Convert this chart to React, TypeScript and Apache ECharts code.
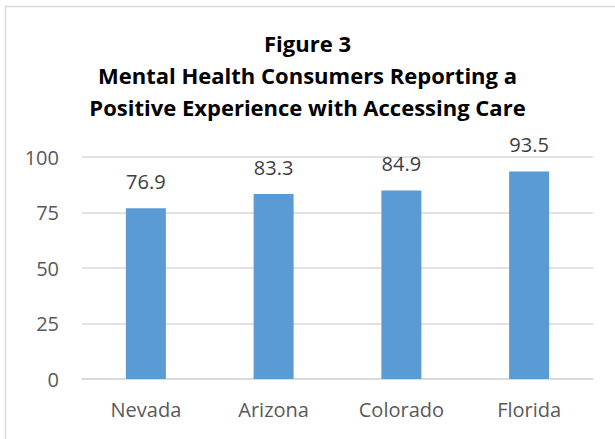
import React, { useEffect, useRef } from "react";
import * as echarts from "echarts";

const titleLines = [
  "Figure 3",
  "Mental Health Consumers Reporting a",
  "Positive Experience with Accessing Care",
];
const categories = ["Nevada", "Arizona", "Colorado", "Florida"];
const values = [76.9, 83.3, 84.9, 93.5];
const yTicks = { min: 0, max: 100, interval: 25 };

const FONT = "'Open Sans', 'Noto Sans', sans-serif";

export default function App() {
  const ref = useRef<HTMLDivElement>(null);
  useEffect(() => {
    if (!ref.current) return;
    const chart = echarts.init(ref.current, null, { renderer: "svg" });
    chart.setOption({
      animation: false,
      backgroundColor: "#ffffff",
      title: {
        text: titleLines.join("\n"),
        left: "center",
        top: 27,
        padding: [0, 0, 0, 10],
        textStyle: {
          fontFamily: FONT,
          fontSize: 22,
          fontWeight: "bold",
          color: "#000000",
          lineHeight: 32,
        },
      },
      graphic: [
        {
          type: "rect",
          shape: { x: 5.5, y: 6.5, width: 700, height: 700 },
          style: { fill: "none", stroke: "#d9d9d9", lineWidth: 1.5 },
          silent: true,
        },
      ],
      grid: { left: 82, right: 22, top: 157, bottom: 60 },
      xAxis: {
        type: "category",
        data: categories,
        axisLine: { lineStyle: { color: "#d9d9d9", width: 1.5 } },
        axisTick: { show: false },
        axisLabel: {
          fontFamily: FONT,
          fontSize: 20,
          color: "#595959",
          margin: 18,
          lineHeight: 24,
        },
      },
      yAxis: {
        type: "value",
        min: yTicks.min,
        max: yTicks.max,
        interval: yTicks.interval,
        axisLine: { show: false },
        axisTick: { show: false },
        splitLine: { lineStyle: { color: "#d9d9d9", width: 1.5 } },
        axisLabel: {
          fontFamily: FONT,
          fontSize: 20,
          color: "#595959",
          margin: 23,
        },
      },
      series: [
        {
          type: "bar",
          data: values,
          barWidth: 40,
          itemStyle: { color: "#5b9bd5" },
          label: {
            show: true,
            position: "top",
            distance: 16,
            fontFamily: FONT,
            fontSize: 20,
            lineHeight: 22,
            color: "#404040",
            formatter: (p: any) => p.value.toFixed(1),
          },
        },
      ],
    });
    return () => chart.dispose();
  }, []);
  return (
    <div
      ref={ref}
      style={{ position: "fixed", left: 0, top: 0, width: 615, height: 439 }}
    />
  );
}
